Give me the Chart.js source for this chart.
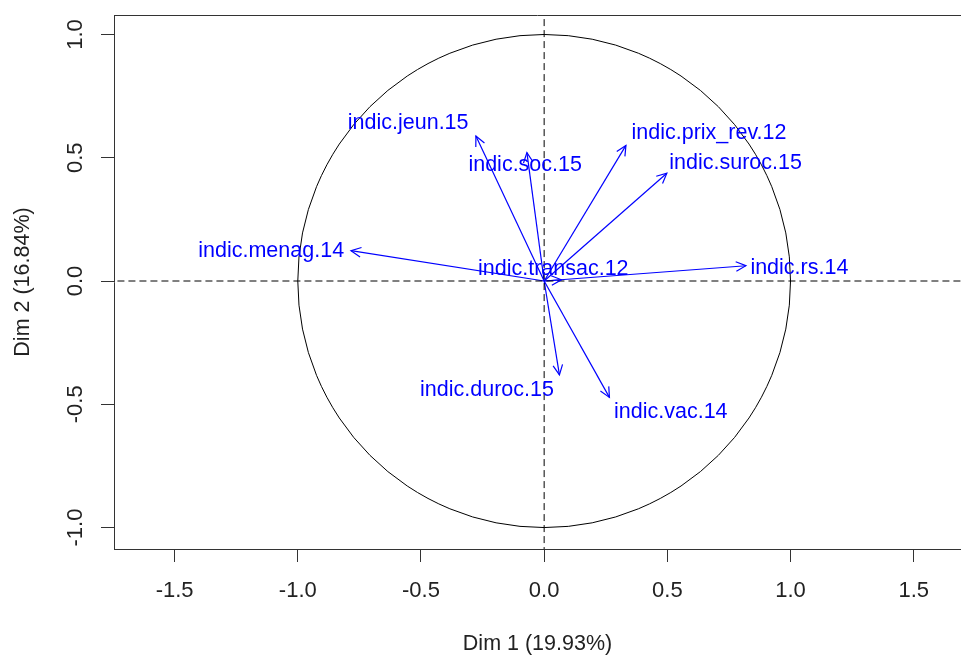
<!DOCTYPE html>
<html>
<head>
<meta charset="utf-8">
<script src="https://cdn.jsdelivr.net/npm/chart.js@4.4.0/dist/chart.umd.min.js"></script>
<style>
  html, body { margin: 0; padding: 0; background: #fff; }
  #wrap { width: 961px; height: 655px; }
</style>
</head>
<body>
<div id="wrap"><canvas id="cercle"></canvas></div>
<script>
// variables du cercle des correlations (ACP)
var VARIABLES = ["indic.jeun.15", "indic.soc.15", "indic.prix_rev.12", "indic.suroc.15",
                 "indic.menag.14", "indic.transac.12", "indic.rs.14", "indic.duroc.15", "indic.vac.14"];
var DIM1 = [-0.277, -0.070, 0.332, 0.498, -0.784, 0.070, 0.819, 0.062, 0.265];
var DIM2 = [0.588, 0.521, 0.550, 0.437, 0.123, 0.005, 0.062, -0.381, -0.472];
// ancrage des etiquettes (centre du texte)
var LABEL_X = [-0.552, -0.077, 0.669, 0.777, -1.108, 0.037, 1.036, -0.232, 0.514];
var LABEL_Y = [0.641, 0.471, 0.600, 0.477, 0.123, 0.047, 0.053, -0.442, -0.530];
var X_TICKS = [-1.5, -1.0, -0.5, 0.0, 0.5, 1.0, 1.5];
var Y_TICKS = [-1.0, -0.5, 0.0, 0.5, 1.0];
var X_TITLE = "Dim 1 (19.93%)";
var Y_TITLE = "Dim 2 (16.84%)";

var FONT = "Liberation Sans, Arial, sans-serif";
var BLEU = "#0000ff";
var GRIS = "#222222";

var datasets = [];
// axes en pointilles
datasets.push({
    data: [{x: -2, y: 0}, {x: 2, y: 0}],
    borderColor: "#000", borderWidth: 1, borderDash: [7, 4], pointRadius: 0
});
datasets.push({
    data: [{x: 0, y: -2}, {x: 0, y: 2}],
    borderColor: "#000", borderWidth: 1, borderDash: [7, 4], pointRadius: 0
});
for (var i = 0; i < VARIABLES.length; i++) {
    datasets.push({
        label: VARIABLES[i],
        data: [{x: 0, y: 0}, {x: DIM1[i], y: DIM2[i]}],
        borderColor: BLEU, borderWidth: 1.2, pointRadius: 0
    });
}

var decorPlugin = {
    id: "decor",
    afterDatasetsDraw: function (chart) {
        var ctx = chart.ctx;
        var xs = chart.scales.x, ys = chart.scales.y;
        var area = chart.chartArea;
        ctx.save();
        // cadre du haut
        ctx.strokeStyle = "#333";
        ctx.lineWidth = 1;
        ctx.beginPath();
        ctx.moveTo(area.left, area.top + 0.5);
        ctx.lineTo(area.right, area.top + 0.5);
        ctx.stroke();
        // cercle unite
        var cx = xs.getPixelForValue(0), cy = ys.getPixelForValue(0);
        var rx = xs.getPixelForValue(1) - cx, ry = cy - ys.getPixelForValue(1);
        ctx.strokeStyle = "#000";
        ctx.beginPath();
        ctx.ellipse(cx, cy, rx, ry, 0, 0, Math.PI * 2);
        ctx.stroke();
        // pointes de fleches
        ctx.strokeStyle = BLEU;
        ctx.lineWidth = 1.2;
        for (var i = 0; i < VARIABLES.length; i++) {
            var px = xs.getPixelForValue(DIM1[i]), py = ys.getPixelForValue(DIM2[i]);
            var ang = Math.atan2(py - cy, px - cx);
            var len = 11, da = Math.PI / 7;
            ctx.beginPath();
            ctx.moveTo(px - len * Math.cos(ang - da), py - len * Math.sin(ang - da));
            ctx.lineTo(px, py);
            ctx.lineTo(px - len * Math.cos(ang + da), py - len * Math.sin(ang + da));
            ctx.stroke();
        }
        // etiquettes
        ctx.fillStyle = BLEU;
        ctx.font = "21.5px " + FONT;
        ctx.textAlign = "center";
        ctx.textBaseline = "middle";
        for (var j = 0; j < VARIABLES.length; j++) {
            ctx.fillText(VARIABLES[j], xs.getPixelForValue(LABEL_X[j]), ys.getPixelForValue(LABEL_Y[j]));
        }
        // graduations verticales de l'axe y
        ctx.fillStyle = GRIS;
        ctx.font = "22px " + FONT;
        Y_TICKS.forEach(function (v) {
            ctx.save();
            ctx.translate(76, ys.getPixelForValue(v));
            ctx.rotate(-Math.PI / 2);
            ctx.fillText(v.toFixed(1), 0, 0);
            ctx.restore();
        });
        ctx.restore();
    }
};

new Chart(document.getElementById("cercle"), {
    type: "line",
    data: { datasets: datasets },
    options: {
        responsive: true,
        maintainAspectRatio: false,
        animation: false,
        layout: { padding: { top: 15, right: 0, left: 0, bottom: 0 } },
        plugins: { legend: { display: false }, tooltip: { enabled: false } },
        scales: {
            x: {
                type: "linear",
                min: -1.746,
                max: 1.692,
                afterBuildTicks: function (axis) {
                    axis.ticks = X_TICKS.map(function (v) { return {value: v}; });
                },
                afterFit: function (axis) { axis.height = 106; },
                border: { display: true, color: "#333", width: 1 },
                grid: { drawOnChartArea: false, drawTicks: true, tickLength: 13, color: "#333" },
                ticks: {
                    color: GRIS,
                    font: { family: FONT, size: 22 },
                    padding: 16,
                    maxRotation: 0,
                    callback: function (v) { return Number(v).toFixed(1); }
                },
                title: {
                    display: true, text: X_TITLE, color: GRIS,
                    font: { family: FONT, size: 21.5, lineHeight: 1.0 },
                    padding: { top: 0, bottom: 0 }
                }
            },
            y: {
                type: "linear",
                min: -1.087,
                max: 1.079,
                afterBuildTicks: function (axis) {
                    axis.ticks = Y_TICKS.map(function (v) { return {value: v}; });
                },
                afterFit: function (axis) { axis.width = 114; },
                border: { display: true, color: "#333", width: 1 },
                grid: { drawOnChartArea: false, drawTicks: true, tickLength: 13, color: "#333" },
                ticks: {
                    display: false
                },
                title: {
                    display: true, text: Y_TITLE, color: GRIS,
                    font: { family: FONT, size: 21.5 },
                    padding: { top: 10, bottom: 0 }
                }
            }
        }
    },
    plugins: [decorPlugin]
});
</script>
</body>
</html>
